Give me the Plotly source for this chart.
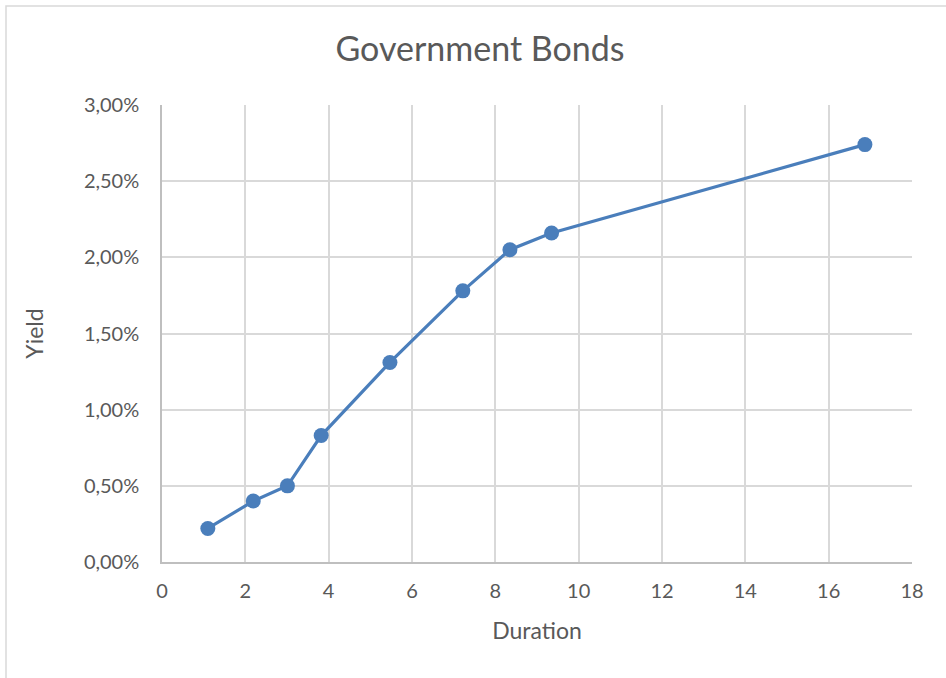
import plotly.graph_objects as go

duration = [1.10, 2.19, 3.01, 3.82, 5.47, 7.22, 8.35, 9.35, 16.87]
yield_pct = [0.0022, 0.0040, 0.0050, 0.0083, 0.0131, 0.0178, 0.0205, 0.0216, 0.0274]

x_ticks = [0, 2, 4, 6, 8, 10, 12, 14, 16, 18]
y_ticks = [0.0, 0.005, 0.010, 0.015, 0.020, 0.025, 0.030]
y_labels = ["0,00%", "0,50%", "1,00%", "1,50%", "2,00%", "2,50%", "3,00%"]

W, H = 946, 678
ML, MR, MT, MB = 162, 34, 105, 116
PW, PH = W - ML - MR, H - MT - MB

FONT = "Lato, 'Open Sans', sans-serif"
TXT = "#595959"
BLUE = "#4a7ebb"

fig = go.Figure()
fig.add_trace(go.Scatter(
    x=duration, y=yield_pct, mode="lines+markers",
    line=dict(color=BLUE, width=3.2),
    marker=dict(color=BLUE, size=15),
    showlegend=False,
))

fig.update_layout(
    width=W, height=H,
    margin=dict(l=ML, r=MR, t=MT, b=MB),
    paper_bgcolor="white", plot_bgcolor="white",
    font=dict(family=FONT, color=TXT),
    title=dict(text="Government Bonds", x=480 / W, xanchor="center",
               y=1 - 49 / H, yanchor="middle",
               font=dict(size=34, color=TXT, family=FONT)),
    xaxis=dict(range=[0, 18], tickvals=x_ticks, ticktext=[str(v) for v in x_ticks],
               showgrid=True, gridcolor="#d9d9d9", gridwidth=1.5,
               showline=True, linecolor="#bfbfbf", linewidth=1.5,
               zeroline=False, ticks="", ticklabelstandoff=10,
               tickfont=dict(size=20, color=TXT),
               title=dict(text="Duration", font=dict(size=23, color=TXT), standoff=22)),
    yaxis=dict(range=[0, 0.030], tickvals=y_ticks, ticktext=y_labels,
               showgrid=True, gridcolor="#d9d9d9", gridwidth=1.5,
               showline=True, linecolor="#bfbfbf", linewidth=1.5,
               zeroline=False, ticks="", ticklabelstandoff=17,
               tickfont=dict(size=20, color=TXT),
               title=dict(text="Yield", font=dict(size=23, color=TXT), standoff=34)),
)

# chart outer border (light gray frame)
fig.add_shape(type="rect", xref="paper", yref="paper",
              x0=(6 - ML) / PW, x1=(W + 5 - ML) / PW,
              y0=(MT + PH - (H + 5)) / PH, y1=(MT + PH - 6) / PH,
              line=dict(color="#d9d9d9", width=1.5), layer="below")

fig.write_html("out.html")
